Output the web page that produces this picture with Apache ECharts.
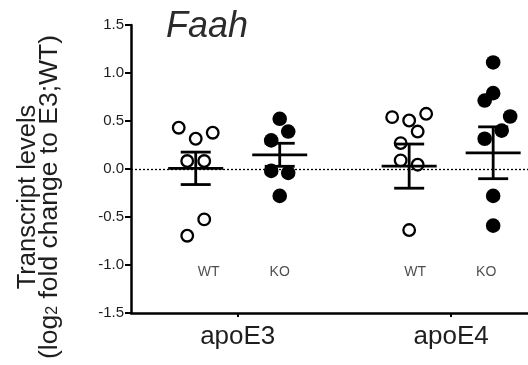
<!DOCTYPE html>
<html>
<head>
<meta charset="utf-8">
<script src="https://cdn.jsdelivr.net/npm/echarts@6/dist/echarts.min.js"></script>
<style>html,body{margin:0;padding:0;background:#fff;}#c{width:528px;height:365px;}</style>
</head>
<body>
<div id="c"></div>
<script>
// ---- data ----
const groupNames = ['apoE3', 'apoE4'];
const genotypeNames = ['WT', 'KO'];
const yTicks = [-1.5, -1.0, -0.5, 0.0, 0.5, 1.0, 1.5];

const e3WT = [0.43, 0.315, 0.378, 0.083, 0.083, -0.525, -0.695];
const e3KO = [0.523, 0.39, 0.298, -0.02, -0.04, -0.28];
const e4WT = [0.54, 0.575, 0.505, 0.39, 0.27, 0.09, 0.045, -0.636];
const e4KO = [1.11, 0.79, 0.713, 0.547, 0.40, 0.315, -0.28, -0.59];

// horizontal spread slot of each point (in half-marker steps)
const e3WTSpread = [-2, 0, 2, -1, 1, 1, -1];
const e3KOSpread = [0, 1, -1, -1, 1, 0];
const e4WTSpread = [-2, 2, 0, 1, -1, -1, 1, 0];
const e4KOSpread = [0, 0, -1, 2, 1, -1, 0, 0];

// mean and SEM as drawn: E3 WT, E3 KO, E4 WT, E4 KO
const groupMeans = [0.007, 0.148, 0.03, 0.169];
const groupSEMs = [0.169, 0.12, 0.23, 0.27];

// ---- layout ----
const xMin = 0.5, xMax = 2.36;
const plotPx = 397;
const unitPerPx = (xMax - xMin) / plotPx;
const sideOffset = 42 * unitPerPx;
const spreadStep = 8.5 * unitPerPx;
const font = '"Liberation Sans", Arial, sans-serif';
const textColor = '#1e1e1e';

const sets = [
  {vals: e3WT, spread: e3WTSpread, g: 0, s: 0},
  {vals: e3KO, spread: e3KOSpread, g: 0, s: 1},
  {vals: e4WT, spread: e4WTSpread, g: 1, s: 0},
  {vals: e4KO, spread: e4KOSpread, g: 1, s: 1}
];
function centerX(g, s) { return (g + 1) + (s === 0 ? -sideOffset : sideOffset); }

const scatterSeries = sets.map((st, i) => ({
  type: 'scatter',
  name: groupNames[st.g] + ' ' + genotypeNames[st.s],
  data: st.vals.map((v, k) => [centerX(st.g, st.s) + st.spread[k] * spreadStep, v]),
  symbol: 'circle',
  symbolSize: st.s === 0 ? 11.6 : 14.6,
  itemStyle: st.s === 0
    ? {color: '#fff', borderColor: '#000', borderWidth: 2.3, opacity: 1}
    : {color: '#000', borderWidth: 0, opacity: 1},
  z: 3,
  silent: true,
  markLine: i === 0 ? {
    silent: true, symbol: 'none', animation: false,
    label: {show: false},
    lineStyle: {color: '#000', type: [2, 2], width: 1.3},
    data: [{yAxis: 0}],
    z: 1
  } : undefined
}));

const barData = sets.map((st, i) => [centerX(st.g, st.s), groupMeans[i], groupSEMs[i]]);
const labelOffsets = [13, 0, 6, -7];
const labelData = sets.map((st, i) => ({
  value: [centerX(st.g, st.s), -1.075],
  label: {offset: [labelOffsets[i], 0]},
  name: genotypeNames[st.s]
}));

const option = {
  animation: false,
  backgroundColor: '#fff',
  grid: {left: 131, right: 0, top: 25, bottom: 52, containLabel: false},
  xAxis: {
    type: 'value', min: xMin, max: xMax,
    axisLine: {show: true, onZero: false, lineStyle: {color: '#000', width: 2.5}},
    axisTick: {show: true, customValues: [1, 2], length: 4, lineStyle: {color: '#000', width: 2}},
    axisLabel: {
      show: true, customValues: [1, 2], margin: 11,
      formatter: v => groupNames[Math.round(v) - 1] || '',
      fontSize: 26, fontFamily: font, color: textColor
    },
    splitLine: {show: false}
  },
  yAxis: {
    type: 'value', min: yTicks[0], max: yTicks[yTicks.length - 1], interval: 0.5,
    axisLine: {show: true, onZero: false, lineStyle: {color: '#000', width: 2.5}},
    axisTick: {show: true, length: 6, lineStyle: {color: '#000', width: 2}},
    axisLabel: {
      margin: 7, fontSize: 15, fontFamily: font, color: textColor,
      formatter: v => v.toFixed(1)
    },
    splitLine: {show: false}
  },
  graphic: [
    {
      type: 'text', left: 166, top: 9,
      style: {text: 'Faah', font: 'italic 36px ' + font, fill: '#2b2b2b'}
    },
    {
      type: 'text', x: 39, y: 197, rotation: Math.PI / 2,
      style: {
        text: '{a|Transcript levels}\n{b|(log}{s|2}{b| fold change to E3;WT)}',
        align: 'center', verticalAlign: 'middle',
        fill: textColor,
        rich: {
          a: {fontSize: 25.5, fontFamily: font, lineHeight: 22, fill: textColor, color: textColor},
          b: {fontSize: 26.5, fontFamily: font, lineHeight: 22, fill: textColor, color: textColor},
          s: {fontSize: 16, fontFamily: font, lineHeight: 22, verticalAlign: 'bottom', fill: textColor, color: textColor, padding: [10, 0, 0, 0]}
        }
      }
    }
  ],
  series: scatterSeries.concat([
    {
      type: 'custom',
      data: barData,
      encode: {x: 0, y: 1},
      clip: false,
      z: 5,
      silent: true,
      renderItem: function (params, api) {
        const x = api.value(0), m = api.value(1), e = api.value(2);
        const c = api.coord([x, m]);
        const t = api.coord([x, m + e]);
        const b = api.coord([x, m - e]);
        const st = {stroke: '#000', lineWidth: 2.8};
        return {
          type: 'group',
          children: [
            {type: 'line', shape: {x1: c[0] - 27.5, y1: c[1], x2: c[0] + 27.5, y2: c[1]}, style: st},
            {type: 'line', shape: {x1: c[0], y1: t[1], x2: c[0], y2: b[1]}, style: st},
            {type: 'line', shape: {x1: c[0] - 15, y1: t[1], x2: c[0] + 15, y2: t[1]}, style: st},
            {type: 'line', shape: {x1: c[0] - 15, y1: b[1], x2: c[0] + 15, y2: b[1]}, style: st}
          ]
        };
      }
    },
    {
      type: 'scatter',
      data: labelData,
      symbolSize: 0,
      silent: true,
      label: {
        show: true, position: 'inside',
        formatter: p => p.name,
        fontSize: 14, fontFamily: font, color: textColor
      }
    }
  ])
};

const chart = echarts.init(document.getElementById('c'), null, {renderer: 'canvas'});
chart.setOption(option);
</script>
</body>
</html>
